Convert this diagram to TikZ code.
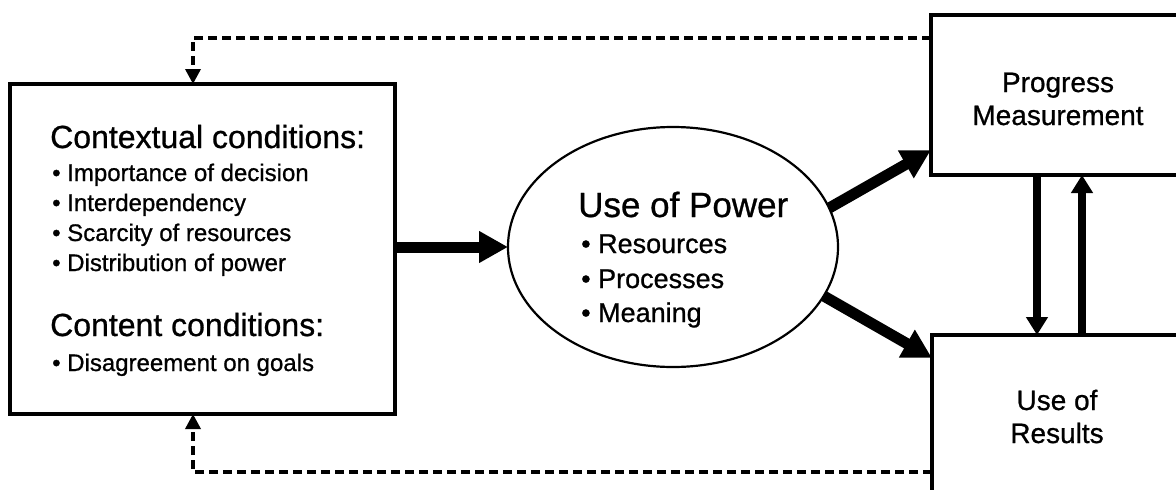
\documentclass[tikz,border=0pt]{standalone}
\usepackage{fontspec}
\setmainfont[FakeBold=0.8]{Liberation Sans}
\usetikzlibrary{arrows.meta,shapes.geometric,calc}
\begin{document}
\begin{tikzpicture}[x=1pt,y=-1pt,
  box/.style={draw,rectangle,line width=3.2pt,inner sep=0pt,outer sep=0pt},
  oval/.style={draw,ellipse,line width=2.2pt,inner sep=0pt,outer sep=0pt},
  bigarrow/.style={line width=11pt,-{Triangle[length=29pt,width=30pt]}},
  vertarrow/.style={line width=8.5pt,-{Triangle[length=18pt,width=21pt]}},
  fb/.style={line width=3.4pt,dash pattern=on 9pt off 5pt,-{Triangle[length=15pt,width=15pt]}},
  head/.style={anchor=base west,inner sep=0pt,font=\fontsize{32}{38}\selectfont},
  item/.style={anchor=base west,inner sep=0pt,font=\fontsize{24}{29}\selectfont},
  phead/.style={anchor=base west,inner sep=0pt,font=\fontsize{35}{42}\selectfont},
  pitem/.style={anchor=base west,inner sep=0pt,font=\fontsize{27}{32}\selectfont},
  label/.style={anchor=base,inner sep=0pt,font=\fontsize{28}{33}\selectfont}]
  \clip (0,0) rectangle (1176,490);
  \fill[white] (0,0) rectangle (1176,490);

  % boxes and the central ellipse
  \node[box,minimum width=385pt,minimum height=330pt] (ctx) at (202.5,249) {};
  \node[oval,minimum width=330pt,minimum height=240pt] (power) at (673,247) {};
  \node[box,minimum width=300pt,minimum height=160pt] (pm) at (1081,95) {};
  \node[box,minimum width=300pt,minimum height=200pt] (uor) at (1082,435) {};

  % text of the conditions box
  \node[head] (ctxh) at (50,148) {Contextual conditions:};
  \node[item] (c1) at (52,181) {\textbullet\ Importance of decision};
  \node[item] (c2) at (52,211) {\textbullet\ Interdependency};
  \node[item] (c3) at (52,241) {\textbullet\ Scarcity of resources};
  \node[item] (c4) at (52,271) {\textbullet\ Distribution of power};
  \node[head] (cnth) at (50,336) {Content conditions:};
  \node[item] (d1) at (52,371) {\textbullet\ Disagreement on goals};

  % text of the ellipse
  \node[phead] (ph) at (578,217) {Use of Power};
  \node[pitem] (p1) at (581,253) {\textbullet\ Resources};
  \node[pitem] (p2) at (581,288) {\textbullet\ Processes};
  \node[pitem] (p3) at (581,322) {\textbullet\ Meaning};

  % text of the right boxes
  \node[label] (pm1) at (1058,92) {Progress};
  \node[label] (pm2) at (1058,125) {Measurement};
  \node[label] (u1) at (1057,410) {Use of};
  \node[label] (u2) at (1057,443) {Results};

  % main flow
  \draw[bigarrow] (ctx.east |- power.west) -- (power.west);
  \draw[bigarrow] (power.14) -- ($(pm.south west)+(0,-25)$);
  \draw[bigarrow] (power.-18) -- ($(uor.north west)+(0,23)$);
  \draw[vertarrow] ($(pm.south west)+(106,0)$) -- ($(uor.north west)+(105,0)$);
  \draw[vertarrow] ($(uor.north west)+(150,0)$) -- ($(pm.south west)+(151,0)$);

  % feedback loops
  \draw[fb] ($(pm.north west)+(0,23)$) -| ($(ctx.north west)+(183,0)$);
  \draw[fb] ($(uor.north west)+(0,137)$) -| ($(ctx.south west)+(183,0)$);
\end{tikzpicture}
\end{document}
